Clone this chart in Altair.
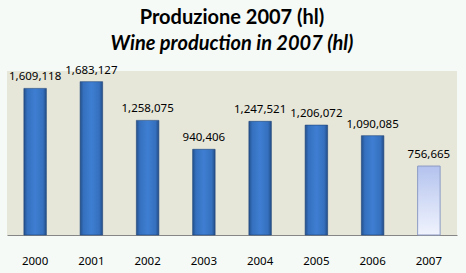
import altair as alt
import pandas as pd

years = ["2000", "2001", "2002", "2003", "2004", "2005", "2006", "2007"]
values = [1609118, 1683127, 1258075, 940406, 1247521, 1206072, 1090085, 756665]
current = [False, False, False, False, False, False, False, True]

df = pd.DataFrame({"year": years, "value": values, "current": current})

blue_grad = alt.LinearGradient(
    gradient="linear", x1=0, x2=1, y1=0, y2=0,
    stops=[
        alt.GradientStop(color="#24508C", offset=0),
        alt.GradientStop(color="#3570BE", offset=0.15),
        alt.GradientStop(color="#3E7ED2", offset=0.5),
        alt.GradientStop(color="#3570BE", offset=0.85),
        alt.GradientStop(color="#234D88", offset=1),
    ],
)
light_grad = alt.LinearGradient(
    gradient="linear", x1=0, x2=0, y1=0, y2=1,
    stops=[
        alt.GradientStop(color="#B3C2EE", offset=0),
        alt.GradientStop(color="#D3DCF6", offset=0.5),
        alt.GradientStop(color="#F0F3FD", offset=1),
    ],
)

x_enc = alt.X(
    "year:N",
    sort=years,
    title=None,
    scale=alt.Scale(paddingInner=0.6, paddingOuter=0.3),
    axis=alt.Axis(
        labelAngle=0, ticks=False, grid=False, domainColor="#868686",
        domainWidth=1, labelPadding=20, labelFont="Noto Sans",
        labelFontSize=11.5, labelColor="#000000",
    ),
)
y_enc = alt.Y("value:Q", scale=alt.Scale(domain=[0, 1800000]), axis=None)

base = alt.Chart(df).encode(x=x_enc, y=y_enc)

bars_blue = base.transform_filter("!datum.current").mark_bar(
    color=blue_grad, stroke="#1F4479", strokeWidth=0.6
)
bars_light = base.transform_filter("datum.current").mark_bar(
    color=light_grad, stroke="#8D9CC4", strokeWidth=1
)
labels = base.mark_text(
    dy=-8, baseline="alphabetic", font="Noto Sans", fontSize=11.5, color="#000000"
).encode(text=alt.Text("value:Q", format=","))

chart = (
    alt.layer(bars_blue, bars_light, labels)
    .properties(
        width=450,
        height=164,
        title=alt.TitleParams(
            text="Produzione 2007 (hl)",
            subtitle="Wine production in 2007 (hl)",
            font="Lato", fontSize=20, fontWeight="bold", color="#000000",
            subtitleFont="Lato", subtitleFontSize=20, subtitleFontWeight="bold",
            subtitleFontStyle="italic", subtitleColor="#000000",
            anchor="middle", offset=11, subtitlePadding=6,
        ),
        background="#F5FAF7",
        padding={"left": 7, "top": 71, "right": 9, "bottom": 38},
        autosize=alt.AutoSizeParams(type="none"),
    )
    .configure_view(fill="#E6E6D9", stroke=None)
)

chart.save("out.html", embed_options={"renderer": "svg", "actions": False})
